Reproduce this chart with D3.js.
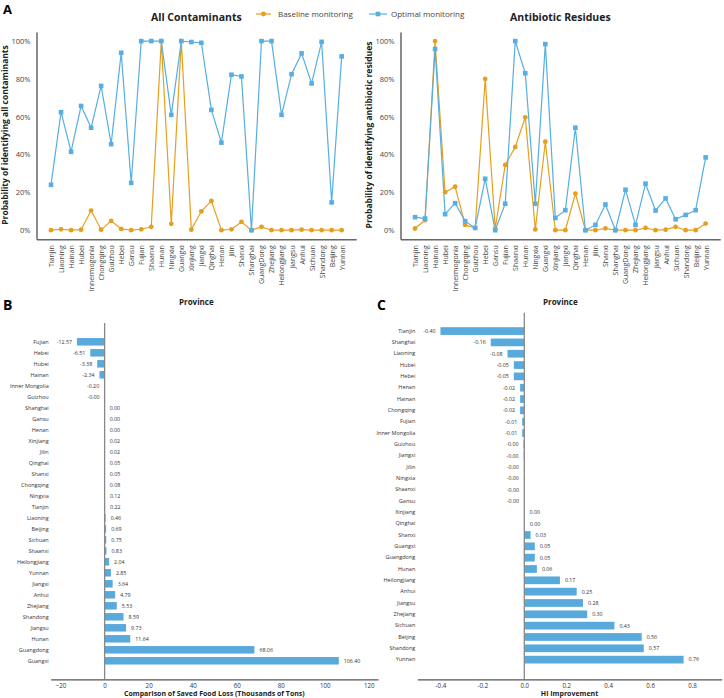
<!DOCTYPE html>
<html>
<head>
<meta charset="utf-8">
<script src="https://cdn.jsdelivr.net/npm/d3@7"></script>
<style>
  body { margin: 0; background: #fff; }
  text { font-family: "Open Sans", "DejaVu Sans", sans-serif; }
</style>
</head>
<body>
<svg id="fig" width="724" height="698"></svg>
<script>
// provinces in the order of the line charts (panel A)
const provinces = ["Tianjin", "Liaoning", "Hainan", "Hubei", "Innermogonia", "Chongqing", "Guizhou", "Hebei", "Gansu", "Fujian",
    "Shaanxi", "Hunan", "Ningxia", "Guangxi", "Xinjiang", "Jiangxi", "Qinghai", "Henan", "Jilin", "Shanxi",
    "Shanghai", "GuangDong", "Zhejiang", "Heilongjiang", "Jiangsu", "Anhui", "Sichuan", "Shandong", "Beijing", "Yunnan"];

// all contaminants (fractions)
const allBaseline = [0.0, 0.005, 0.0, 0.003, 0.104, 0.003, 0.049, 0.007, 0.0, 0.005,
    0.018, 1.0, 0.034, 1.0, 0.003, 0.10, 0.155, 0.0, 0.005, 0.044,
    0.0, 0.018, 0.0, 0.0, 0.0, 0.003, 0.0, 0.0, 0.0, 0.0];
const allOptimal = [0.24, 0.624, 0.415, 0.657, 0.542, 0.763, 0.455, 0.938, 0.25, 1.0,
    1.0, 1.0, 0.61, 1.0, 0.995, 0.991, 0.636, 0.463, 0.822, 0.813,
    0.0, 1.0, 1.0, 0.61, 0.825, 0.935, 0.776, 0.996, 0.147, 0.919];

// antibiotic residues (fractions)
const abBaseline = [0.009, 0.053, 1.0, 0.201, 0.23, 0.028, 0.012, 0.80, 0.009, 0.345,
    0.44, 0.597, 0.004, 0.468, 0.0, 0.0, 0.194, 0.0, 0.0, 0.01,
    0.0, 0.0, 0.0, 0.012, 0.0, 0.003, 0.018, 0.0, 0.0, 0.035];
const abOptimal = [0.069, 0.062, 0.958, 0.085, 0.143, 0.048, 0.012, 0.272, 0.0, 0.14,
    1.0, 0.83, 0.14, 0.984, 0.065, 0.106, 0.542, 0.0, 0.028, 0.136,
    0.0, 0.214, 0.028, 0.246, 0.104, 0.168, 0.058, 0.081, 0.106, 0.385];

// panel B: saved food loss (thousands of tons)
const bProvinces = ["Fujian", "Hebei", "Hubei", "Hainan", "Inner Mongolia", "Guizhou", "Shanghai", "Gansu", "Henan", "Xinjiang",
    "Jilin", "Qinghai", "Shanxi", "Chongqing", "Ningxia", "Tianjin", "Liaoning", "Beijing", "Sichuan", "Shaanxi",
    "Heilongjiang", "Yunnan", "Jiangxi", "Anhui", "Zhejiang", "Shandong", "Jiangsu", "Hunan", "Guangdong", "Guangxi"];
const bValues = [-12.57, -6.51, -3.38, -2.34, -0.20, -0.001, 0.001, 0.001, 0.001, 0.02,
    0.02, 0.05, 0.05, 0.08, 0.12, 0.22, 0.46, 0.69, 0.75, 0.83,
    2.04, 2.85, 3.64, 4.79, 5.53, 8.59, 9.73, 11.64, 68.06, 106.40];

// panel C: HI improvement
const cProvinces = ["Tianjin", "Shanghai", "Liaoning", "Hubei", "Hebei", "Henan", "Hainan", "Chongqing", "Fujian", "Inner Mongolia",
    "Guizhou", "Jiangxi", "Jilin", "Ningxia", "Shaanxi", "Gansu", "Xinjiang", "Qinghai", "Shanxi", "Guangxi",
    "Guangdong", "Hunan", "Heilongjiang", "Anhui", "Jiangsu", "Zhejiang", "Sichuan", "Beijing", "Shandong", "Yunnan"];
const cValues = [-0.40, -0.16, -0.08, -0.05, -0.05, -0.02, -0.02, -0.02, -0.01, -0.01,
    -0.004, -0.003, -0.002, -0.002, -0.001, -0.001, 0.001, 0.002, 0.03, 0.05,
    0.05, 0.06, 0.17, 0.25, 0.28, 0.30, 0.43, 0.56, 0.57, 0.76];

const orange = "#e69f1d", blue = "#56aee2", barBlue = "#58a9dc";
const svg = d3.select("#fig");

function drawLinePanel(x0, x1, baseline, optimal, title, yTitle) {
    const x = d3.scalePoint().domain(provinces).range([x0, x1]).padding(1.45);
    const y = d3.scaleLinear().domain([-0.048, 1.048]).range([239.3, 32]);
    const g = svg.append("g");

    const yAx = g.append("g")
        .attr("transform", `translate(${x0},0)`)
        .call(d3.axisLeft(y).tickValues([0, 0.2, 0.4, 0.6, 0.8, 1]).tickFormat(d3.format(".0%")).tickSize(0).tickPadding(6));
    yAx.select(".domain").attr("stroke", "#666").attr("stroke-width", 1.5);
    yAx.selectAll("text").attr("font-size", 7.5).attr("fill", "#444");

    const xAx = g.append("g")
        .attr("transform", "translate(0,239.3)")
        .call(d3.axisBottom(x).tickSize(0));
    xAx.select(".domain").attr("stroke", "#666").attr("stroke-width", 1.5);
    xAx.selectAll("text")
        .attr("transform", "rotate(-90)")
        .attr("text-anchor", "end")
        .attr("x", -6).attr("y", 0).attr("dy", "0.35em")
        .attr("font-size", 7).attr("fill", "#444");

    const line = d3.line().x((d, i) => x(provinces[i])).y(d => y(d));

    g.append("path").datum(baseline).attr("d", line)
        .attr("fill", "none").attr("stroke", orange).attr("stroke-width", 1.2);
    g.append("path").datum(optimal).attr("d", line)
        .attr("fill", "none").attr("stroke", blue).attr("stroke-width", 1.2);

    g.selectAll("circle.base").data(baseline).join("circle")
        .attr("class", "base")
        .attr("cx", (d, i) => x(provinces[i])).attr("cy", d => y(d))
        .attr("r", 2.4).attr("fill", orange);
    g.selectAll("rect.opt").data(optimal).join("rect")
        .attr("class", "opt")
        .attr("x", (d, i) => x(provinces[i]) - 2.3).attr("y", d => y(d) - 2.3)
        .attr("width", 4.6).attr("height", 4.6).attr("fill", blue);

    const cx = (x0 + x1) / 2;
    g.append("text").attr("x", cx).attr("y", 21).attr("text-anchor", "middle")
        .attr("font-size", 10.5).attr("font-weight", "bold").attr("fill", "#222").text(title);
    g.append("text").attr("x", cx).attr("y", 305).attr("text-anchor", "middle")
        .attr("font-size", 8).attr("font-weight", "bold").attr("fill", "#222").text("Province");
    g.append("text").attr("transform", `translate(${x0 - 29},135) rotate(-90)`)
        .attr("text-anchor", "middle")
        .attr("font-size", 8.5).attr("font-weight", "bold").attr("fill", "#222").text(yTitle);
}

drawLinePanel(36.5, 356.2, allBaseline, allOptimal, "All Contaminants", "Probability of identifying all contaminants");
drawLinePanel(400.5, 720.2, abBaseline, abOptimal, "Antibiotic Residues", "Probability of identifying antibiotic residues");

// legend
const leg = svg.append("g");
leg.append("line").attr("x1", 256).attr("x2", 271).attr("y1", 14).attr("y2", 14).attr("stroke", orange).attr("stroke-width", 1.2);
leg.append("circle").attr("cx", 263.5).attr("cy", 14).attr("r", 2.4).attr("fill", orange);
leg.append("text").attr("x", 278).attr("y", 14).attr("dy", "0.35em").attr("font-size", 8).attr("fill", "#444").text("Baseline monitoring");
leg.append("line").attr("x1", 369).attr("x2", 387).attr("y1", 14).attr("y2", 14).attr("stroke", blue).attr("stroke-width", 1.2);
leg.append("rect").attr("x", 375.7).attr("y", 11.7).attr("width", 4.6).attr("height", 4.6).attr("fill", blue);
leg.append("text").attr("x", 391).attr("y", 14).attr("dy", "0.35em").attr("font-size", 8).attr("fill", "#444").text("Optimal monitoring");

// panel letters
[["A", 3, 14, 13], ["B", 3, 310, 14], ["C", 377, 310, 14]].forEach(([t, lx, ly, fs]) => {
    svg.append("text").attr("x", lx).attr("y", ly).attr("font-size", fs)
        .attr("font-weight", "bold").attr("font-family", "Liberation Sans, Arial, sans-serif").text(t);
});

function drawBarPanel(cats, vals, xDomain, xRange, yRange, zeroTop, ticks, tickFmt, xTitle) {
    const x = d3.scaleLinear().domain(xDomain).range(xRange);
    const y = d3.scaleBand().domain(cats).range(yRange).paddingInner(0.32).paddingOuter(0.16);
    const g = svg.append("g");
    const axisY = 679.3;

    g.selectAll("rect.bar").data(vals).join("rect")
        .attr("class", "bar")
        .attr("x", d => x(Math.min(0, d)))
        .attr("y", (d, i) => y(cats[i]))
        .attr("width", d => Math.abs(x(d) - x(0)))
        .attr("height", y.bandwidth())
        .attr("fill", barBlue);

    g.selectAll("text.val").data(vals).join("text")
        .attr("class", "val")
        .attr("x", d => d < 0 ? x(d) - 5 : x(d) + 5)
        .attr("y", (d, i) => y(cats[i]) + y.bandwidth() / 2)
        .attr("dy", "0.35em")
        .attr("text-anchor", d => d < 0 ? "end" : "start")
        .attr("font-size", 5.3).attr("fill", "#333")
        .text(d => d.toFixed(2));

    const yAx = g.append("g")
        .attr("transform", `translate(${xRange[0]},0)`)
        .call(d3.axisLeft(y).tickSize(0).tickPadding(2));
    yAx.select(".domain").remove();
    yAx.selectAll("text").attr("font-size", 5.5).attr("fill", "#333");

    g.append("line").attr("x1", x(0)).attr("x2", x(0)).attr("y1", zeroTop).attr("y2", axisY)
        .attr("stroke", "#888").attr("stroke-width", 1.3);

    const xAx = g.append("g")
        .attr("transform", `translate(0,${axisY})`)
        .call(d3.axisBottom(x).tickValues(ticks).tickFormat(tickFmt).tickSize(0).tickPadding(4));
    xAx.select(".domain").attr("stroke", "#555").attr("stroke-width", 1.3);
    xAx.selectAll("text").attr("font-size", 6.2).attr("fill", "#333");

    g.append("text").attr("x", (xRange[0] + xRange[1]) / 2).attr("y", 696)
        .attr("text-anchor", "middle").attr("font-size", 7).attr("font-weight", "bold").attr("fill", "#222")
        .text(xTitle);
}

drawBarPanel(bProvinces, bValues, [-24.5, 124.2], [50.7, 378], [336.3, 666.3], 323,
    [-20, 0, 20, 40, 60, 80, 100, 120], d3.format("d"),
    "Comparison of Saved Food Loss (Thousands of Tons)");
drawBarPanel(cProvinces, cValues, [-0.5105, 0.9418], [417.3, 721.7], [325.4, 665.3], 312.7,
    [-0.4, -0.2, 0, 0.2, 0.4, 0.6, 0.8], d => d.toFixed(1),
    "HI Improvement");
</script>
</body>
</html>
